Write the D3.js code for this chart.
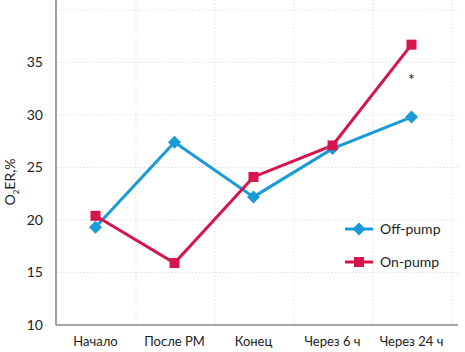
<!DOCTYPE html>
<html><head><meta charset="utf-8">
<script src="https://cdn.jsdelivr.net/npm/d3@7"></script>
<style>body{margin:0;background:#fff}svg{display:block}text{font-family:Lato,"Open Sans",sans-serif;fill:#222}</style>
</head><body>
<svg id="c" width="465" height="352"></svg>
<script>
const categories = ["Начало","После РМ","Конец","Через 6 ч","Через 24 ч"];
const offPump = [19.3, 27.4, 22.2, 26.8, 29.8];
const onPump = [20.4, 15.9, 24.1, 27.1, 36.7];
const yTicks = [10,15,20,25,30,35];
const seriesNames = ["Off-pump","On-pump"];
const colors = ["#1a9ad8","#d5154b"];

const svg = d3.select("#c");
const x0 = 56, x1 = 451, yTop = 10, yBot = 325;
const x = d3.scaleBand().domain(categories).range([x0, x1]);
const y = d3.scaleLinear().domain([10, 40]).range([yBot, yTop]);

// grid
const g = svg.append("g");
[15,20,25,30,35,40].forEach(v=>{
  g.append("line").attr("x1",x0).attr("x2",460).attr("y1",y(v)).attr("y2",y(v))
   .attr("stroke","#dcdcdc").attr("stroke-dasharray","1.2,2.2");
});
categories.forEach(c=>{
  const xx = x(c)+x.bandwidth();
  g.append("line").attr("x1",xx+1).attr("x2",xx+1).attr("y1",0).attr("y2",yBot)
   .attr("stroke","#dcdcdc").attr("stroke-dasharray","1.2,2.2");
});

// axes
const yAxis = svg.append("g").attr("transform",`translate(${x0},0)`)
  .call(d3.axisLeft(y).tickValues(yTicks).tickSize(0).tickPadding(13).tickFormat(d3.format("d")));
yAxis.select(".domain").remove();
yAxis.selectAll("text").style("font-size","14px").attr("fill","#222");
svg.append("line").attr("x1",x0).attr("x2",x0).attr("y1",0).attr("y2",yBot).attr("stroke","#888").attr("stroke-width",1.6);
svg.append("line").attr("x1",x0).attr("x2",458).attr("y1",yBot).attr("y2",yBot).attr("stroke","#888").attr("stroke-width",1.6);

const xAxis = svg.append("g").attr("transform",`translate(0,${yBot})`)
  .call(d3.axisBottom(x).tickSize(0).tickPadding(12));
xAxis.select(".domain").remove();
xAxis.selectAll("text").style("font-size","13px").attr("fill","#222");

// y title
const yt = svg.append("text").attr("transform","translate(15,182) rotate(-90)").attr("text-anchor","middle").style("font-size","14px");
yt.append("tspan").text("O");
yt.append("tspan").text("2").style("font-size","8px").attr("dy","4");
yt.append("tspan").text("ER,%").attr("dy","-4");

// series
const line = d3.line().x((d,i)=>x(categories[i])+x.bandwidth()/2).y(d=>y(d));
const data = [offPump, onPump];
const sizes = [85, 100];
const rots = [45, 0];
data.forEach((s,k)=>{
  svg.append("path").datum(s).attr("d",line).attr("fill","none").attr("stroke",colors[k]).attr("stroke-width",3);
});
data.forEach((s,k)=>{
  svg.selectAll(null).data(s).enter().append("path")
    .attr("d",d3.symbol().type(d3.symbolSquare).size(sizes[k]))
    .attr("transform",(d,i)=>`translate(${x(categories[i])+x.bandwidth()/2},${y(d)}) rotate(${rots[k]})`)
    .attr("fill",colors[k]);
});

// asterisk
svg.append("text").attr("x",x(categories[4])+x.bandwidth()/2).attr("y",y(32.9)).attr("text-anchor","middle").style("font-size","16px").text("*");

// legend
seriesNames.forEach((n,k)=>{
  const ly = 229 + k*33;
  svg.append("line").attr("x1",345).attr("x2",373).attr("y1",ly).attr("y2",ly).attr("stroke",colors[k]).attr("stroke-width",3);
  svg.append("path").attr("d",d3.symbol().type(d3.symbolSquare).size(sizes[k])).attr("transform",`translate(359,${ly}) rotate(${rots[k]})`).attr("fill",colors[k]);
  svg.append("text").attr("x",380).attr("y",ly+5).style("font-size","14px").text(n);
});
</script>
</body></html>
